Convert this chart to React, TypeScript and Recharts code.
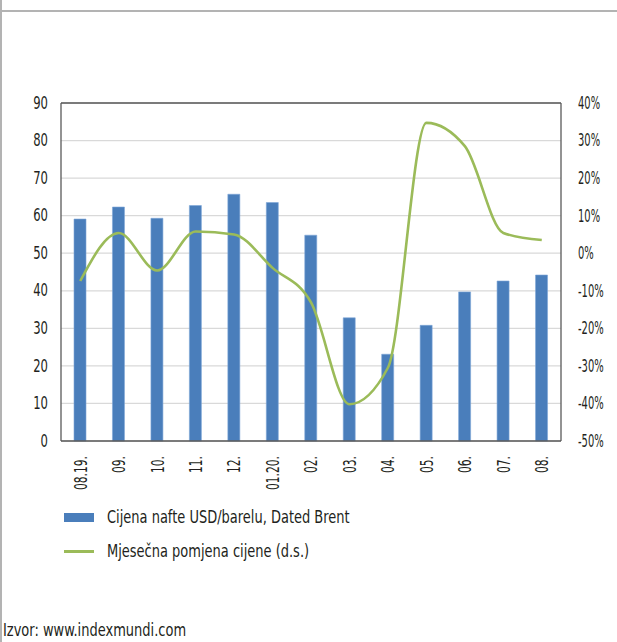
import { Bar, ComposedChart, Line, XAxis, YAxis, CartesianGrid, ReferenceLine } from "recharts"

const months = ["08.19.", "09.", "10.", "11.", "12.", "01.20.", "02.", "03.", "04.", "05.", "06.", "07.", "08."]
const brentPrice = [59.1, 62.3, 59.3, 62.7, 65.7, 63.5, 54.8, 32.8, 23.1, 30.8, 39.7, 42.6, 44.2]
const monthlyChange = [-7.4, 5.4, -4.6, 5.8, 5.0, -3.9, -13.1, -40.2, -30.5, 34.7, 28.5, 5.4, 3.5]
const leftTicks = [0, 10, 20, 30, 40, 50, 60, 70, 80, 90]
const rightTicks = [-50, -40, -30, -20, -10, 0, 10, 20, 30, 40]

const data = months.map((m, i) => ({ month: m, price: brentPrice[i], change: monthlyChange[i] }))

const FONT = "'Liberation Sans Narrow', 'DejaVu Sans Condensed', 'Noto Sans', sans-serif"
const TEXT = "#231f20"

// the original uses a condensed face; squeeze the installed fonts horizontally
const MonthTick = (props: any) => {
  const { x, y, payload } = props
  return (
    <text
      transform={`translate(${x},${y}) rotate(-90) translate(-7,0) scale(0.7,1)`}
      textAnchor="end"
      dominantBaseline="central"
      fontSize={17}
      fontFamily={FONT}
      fill={TEXT}
    >
      {payload.value}
    </text>
  )
}

const LeftTick = (props: any) => {
  const { x, y, payload } = props
  return (
    <text
      transform={`translate(${x},${y}) scale(0.76,1)`}
      textAnchor="end"
      dominantBaseline="central"
      fontSize={17}
      fontFamily={FONT}
      fill={TEXT}
    >
      {payload.value}
    </text>
  )
}

const RightTick = (props: any) => {
  const { x, y, payload } = props
  return (
    <text
      transform={`translate(${x},${y}) scale(0.65,1)`}
      textAnchor="start"
      dominantBaseline="central"
      fontSize={17}
      fontFamily={FONT}
      fill={TEXT}
    >
      {`${payload.value}%`}
    </text>
  )
}

const squeeze = { transform: "scaleX(0.85)", transformOrigin: "left center", whiteSpace: "nowrap" as const }

export default function App() {
  return (
    <div
      style={{
        position: "absolute",
        left: 0,
        top: 0,
        width: 617,
        height: 642,
        background: "#fff",
        fontFamily: FONT,
        color: TEXT,
        overflow: "hidden",
      }}
    >
      <div style={{ position: "absolute", left: 0, top: 0, width: 2, height: 642, background: "#b3b3b3" }} />
      <div style={{ position: "absolute", left: 0, top: 10, width: 617, height: 2, background: "#b3b3b3" }} />
      <div style={{ position: "absolute", left: 0, top: 0 }}>
        <ComposedChart
          width={617}
          height={500}
          data={data}
          margin={{ top: 103, right: 0, bottom: 14, left: 0 }}
          barCategoryGap={0}
        >
          <CartesianGrid vertical={false} stroke="#d9d9d9" strokeWidth={1.3} yAxisId="left" />
          <XAxis
            dataKey="month"
            height={45}
            tick={<MonthTick />}
            tickLine={false}
            axisLine={{ stroke: "#595959", strokeWidth: 1.3 }}
            interval={0}
          />
          <YAxis
            yAxisId="left"
            orientation="left"
            width={61}
            domain={[0, 90]}
            ticks={leftTicks}
            interval={0}
            tickLine={false}
            tickMargin={7}
            axisLine={{ stroke: "#595959", strokeWidth: 1.3 }}
            tick={<LeftTick />}
          />
          <YAxis
            yAxisId="right"
            orientation="right"
            width={56}
            domain={[-50, 40]}
            ticks={rightTicks}
            interval={0}
            tickLine={false}
            tickMargin={11}
            axisLine={{ stroke: "#595959", strokeWidth: 1.3 }}
            tick={<RightTick />}
          />
          <ReferenceLine yAxisId="left" y={90} stroke="#595959" strokeWidth={1.3} />
          <Bar
            yAxisId="left"
            dataKey="price"
            fill="#4a7ebb"
            stroke="#7ea6d6"
            strokeWidth={0.6}
            barSize={12}
            isAnimationActive={false}
          />
          <Line
            yAxisId="right"
            dataKey="change"
            type="monotone"
            stroke="#9bbb59"
            strokeWidth={2.6}
            dot={false}
            isAnimationActive={false}
          />
        </ComposedChart>
      </div>
      <div style={{ position: "absolute", left: 64, top: 513, width: 30, height: 9, background: "#4a7ebb" }} />
      <div style={{ position: "absolute", left: 107, top: 506, fontSize: 17, lineHeight: "22px", ...squeeze }}>
        Cijena nafte USD/barelu, Dated Brent
      </div>
      <div style={{ position: "absolute", left: 64, top: 550, width: 30, height: 2.5, background: "#9bbb59" }} />
      <div style={{ position: "absolute", left: 107, top: 540, fontSize: 17, lineHeight: "22px", ...squeeze }}>
        Mjesečna pomjena cijene (d.s.)
      </div>
      <div style={{ position: "absolute", left: 3, top: 619, fontSize: 17, lineHeight: "22px", ...squeeze }}>
        Izvor: www.indexmundi.com
      </div>
    </div>
  )
}
